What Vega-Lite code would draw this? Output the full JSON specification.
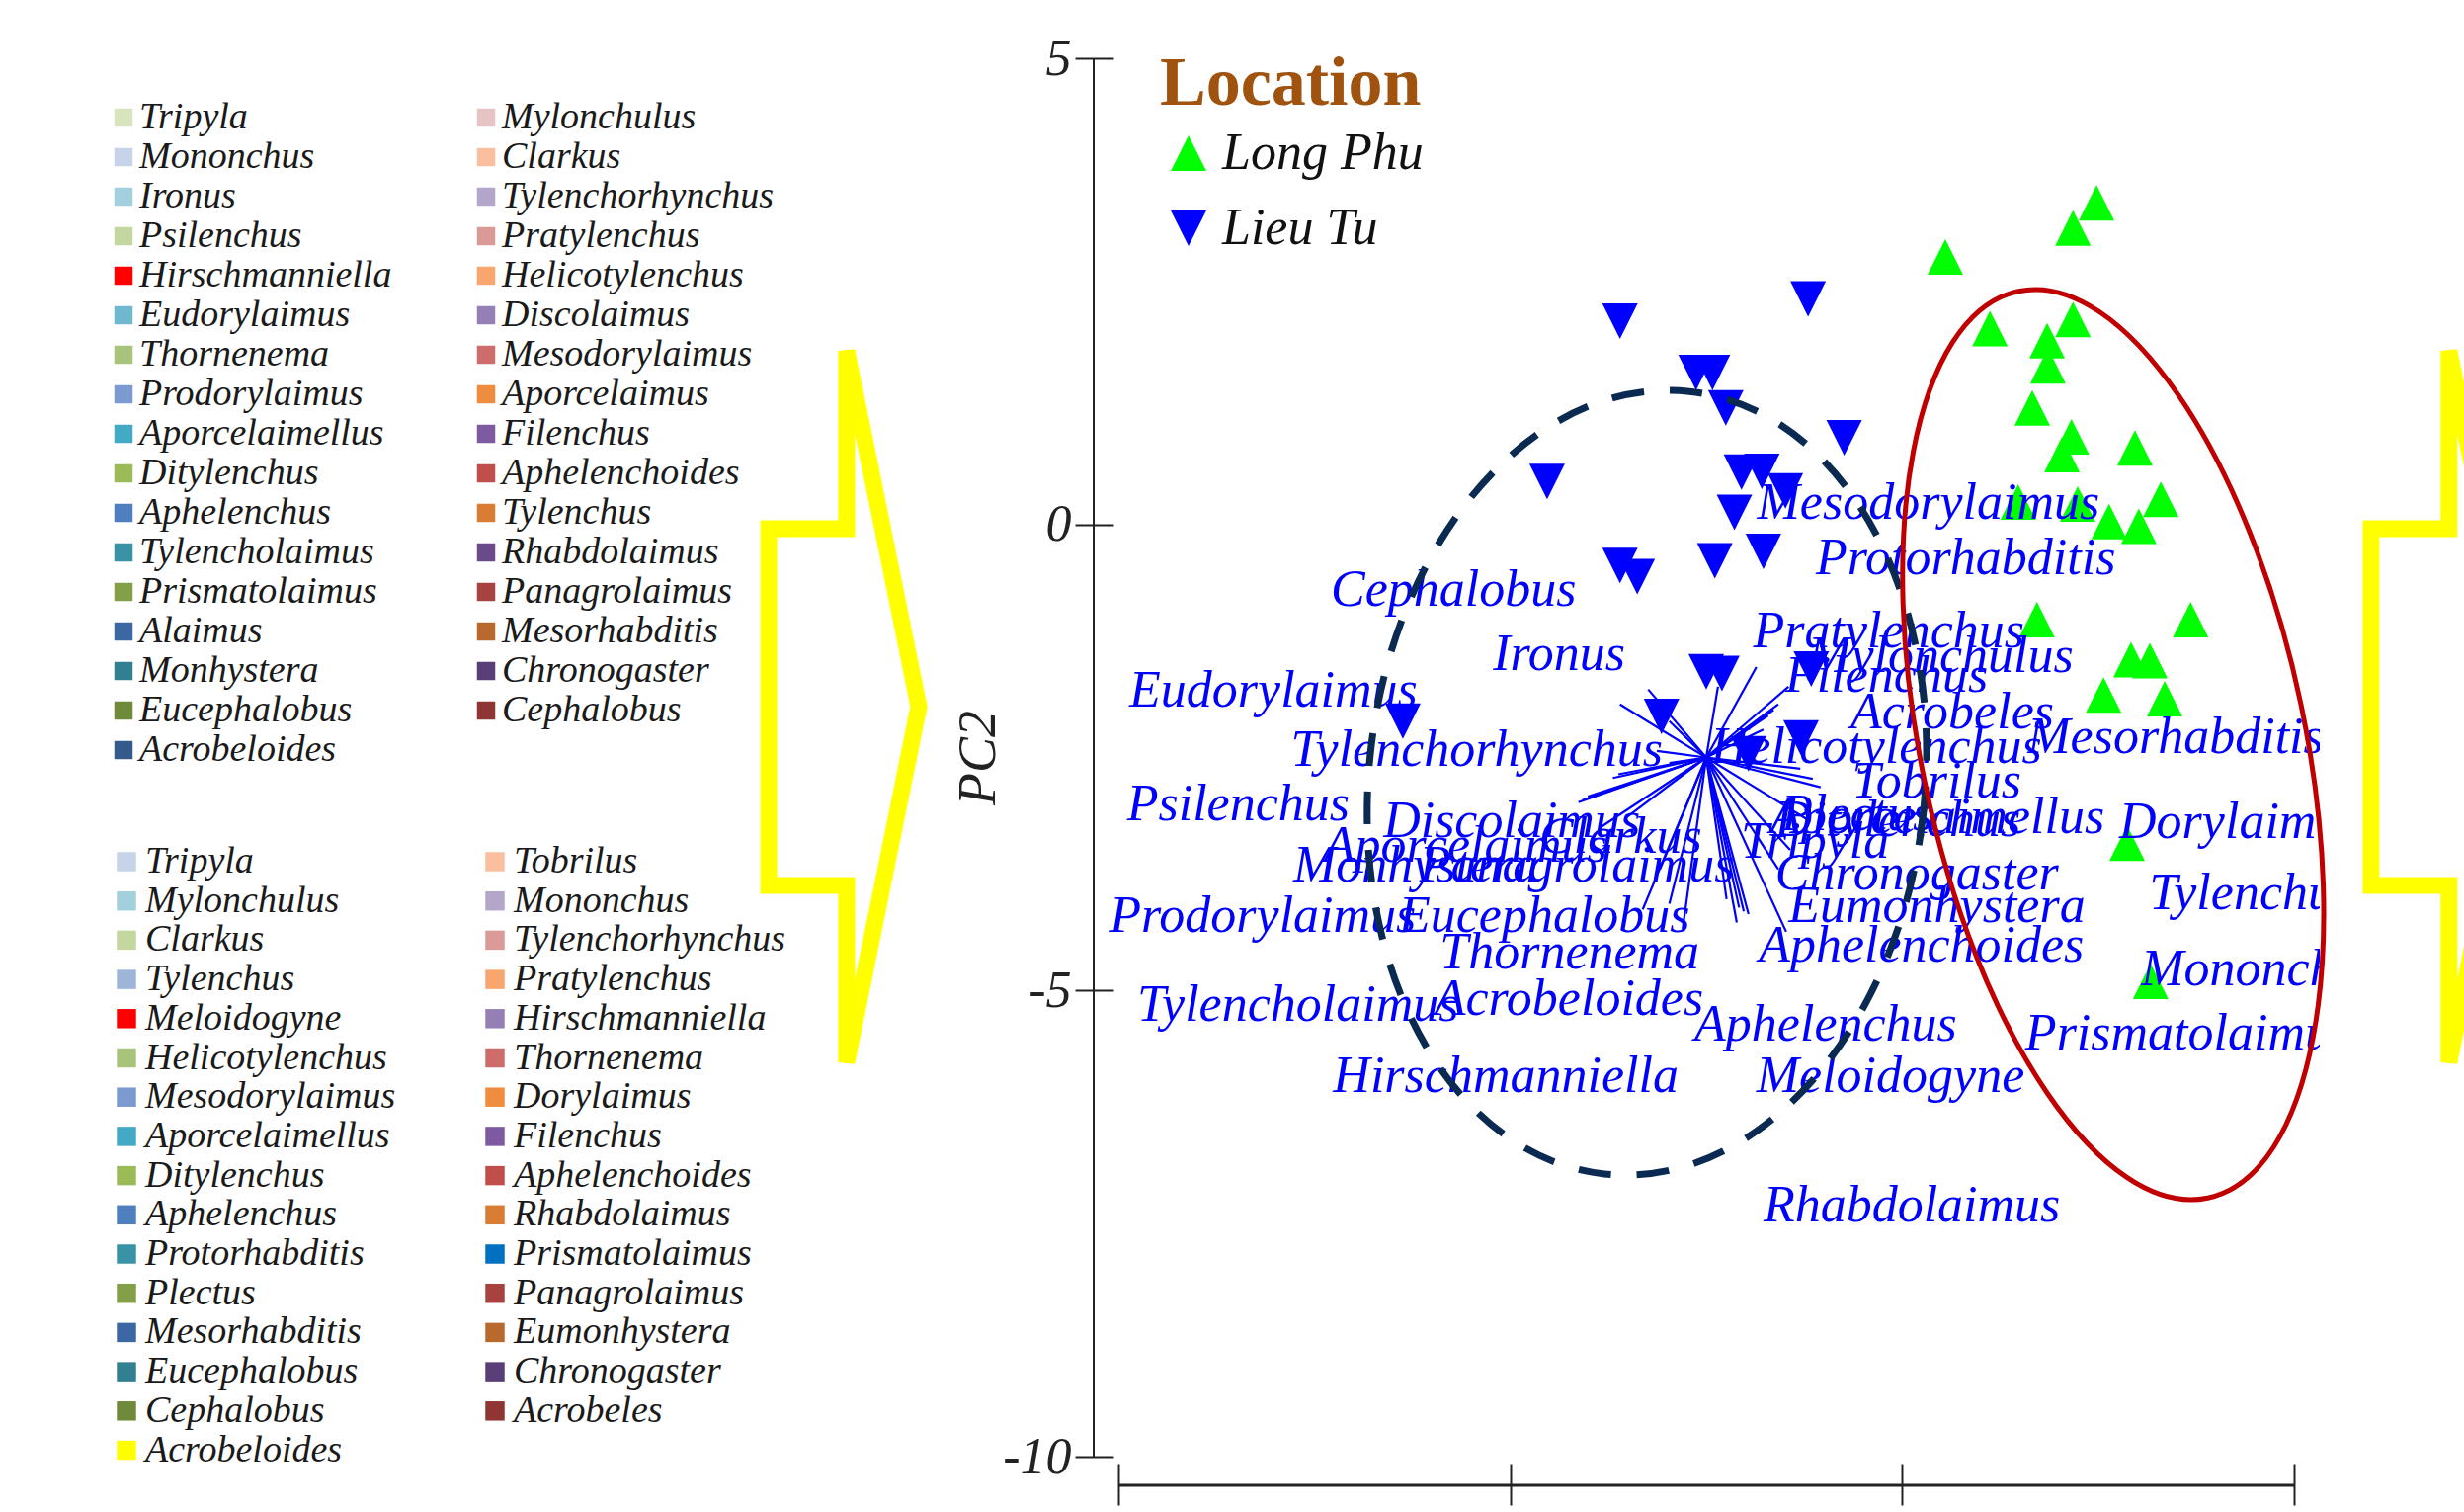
{
  "$schema": "https://vega.github.io/schema/vega-lite/v6.json",
  "width": 1241,
  "height": 1415,
  "autosize": {"type": "none"},
  "padding": {"left": 1107, "top": 59, "right": 146, "bottom": 56},
  "background": "white",
  "config": {"view": {"stroke": null}, "axis": {"grid": false}},
  "datasets": {
    "one": [{}],
    "sites": [
      {"Location": "Lieu Tu", "PC1": 1.40, "PC2": 2.18},
      {"Location": "Lieu Tu", "PC1": 3.80, "PC2": 2.42},
      {"Location": "Lieu Tu", "PC1": 2.37, "PC2": 1.63},
      {"Location": "Lieu Tu", "PC1": 2.58, "PC2": 1.63},
      {"Location": "Lieu Tu", "PC1": 2.75, "PC2": 1.25},
      {"Location": "Lieu Tu", "PC1": 4.26, "PC2": 0.93},
      {"Location": "Lieu Tu", "PC1": 0.47, "PC2": 0.46},
      {"Location": "Lieu Tu", "PC1": 2.95, "PC2": 0.56},
      {"Location": "Lieu Tu", "PC1": 3.21, "PC2": 0.57},
      {"Location": "Lieu Tu", "PC1": 3.51, "PC2": 0.36},
      {"Location": "Lieu Tu", "PC1": 2.86, "PC2": 0.13},
      {"Location": "Lieu Tu", "PC1": 1.40, "PC2": -0.44},
      {"Location": "Lieu Tu", "PC1": 1.62, "PC2": -0.56},
      {"Location": "Lieu Tu", "PC1": 2.61, "PC2": -0.39},
      {"Location": "Lieu Tu", "PC1": 3.23, "PC2": -0.29},
      {"Location": "Lieu Tu", "PC1": 2.50, "PC2": -1.58},
      {"Location": "Lieu Tu", "PC1": 2.70, "PC2": -1.60},
      {"Location": "Lieu Tu", "PC1": 3.84, "PC2": -1.55},
      {"Location": "Lieu Tu", "PC1": 1.93, "PC2": -2.06},
      {"Location": "Lieu Tu", "PC1": 3.71, "PC2": -2.29},
      {"Location": "Lieu Tu", "PC1": 3.04, "PC2": -2.46},
      {"Location": "Lieu Tu", "PC1": -1.37, "PC2": -2.11},
      {"Location": "Long Phu", "PC1": 7.48, "PC2": 3.45},
      {"Location": "Long Phu", "PC1": 7.18, "PC2": 3.18},
      {"Location": "Long Phu", "PC1": 5.55, "PC2": 2.87},
      {"Location": "Long Phu", "PC1": 6.12, "PC2": 2.10},
      {"Location": "Long Phu", "PC1": 7.18, "PC2": 2.20},
      {"Location": "Long Phu", "PC1": 6.85, "PC2": 1.97},
      {"Location": "Long Phu", "PC1": 6.86, "PC2": 1.70},
      {"Location": "Long Phu", "PC1": 6.66, "PC2": 1.25},
      {"Location": "Long Phu", "PC1": 7.16, "PC2": 0.94},
      {"Location": "Long Phu", "PC1": 7.04, "PC2": 0.75},
      {"Location": "Long Phu", "PC1": 7.97, "PC2": 0.82},
      {"Location": "Long Phu", "PC1": 6.48, "PC2": 0.24},
      {"Location": "Long Phu", "PC1": 7.24, "PC2": 0.22},
      {"Location": "Long Phu", "PC1": 8.30, "PC2": 0.27},
      {"Location": "Long Phu", "PC1": 7.64, "PC2": 0.03},
      {"Location": "Long Phu", "PC1": 8.02, "PC2": -0.02},
      {"Location": "Long Phu", "PC1": 6.72, "PC2": -1.02},
      {"Location": "Long Phu", "PC1": 8.68, "PC2": -1.02},
      {"Location": "Long Phu", "PC1": 7.92, "PC2": -1.45},
      {"Location": "Long Phu", "PC1": 8.16, "PC2": -1.46},
      {"Location": "Long Phu", "PC1": 7.57, "PC2": -1.83},
      {"Location": "Long Phu", "PC1": 8.35, "PC2": -1.87},
      {"Location": "Long Phu", "PC1": 7.87, "PC2": -3.42},
      {"Location": "Long Phu", "PC1": 8.17, "PC2": -4.90}
    ],
    "vectors": [
      {"PC1": 1.76, "PC2": -1.77}, {"PC1": 1.40, "PC2": -1.93}, {"PC1": 2.03, "PC2": -2.11},
      {"PC1": 2.65, "PC2": -1.74}, {"PC1": 3.14, "PC2": -1.53}, {"PC1": 3.55, "PC2": -1.74},
      {"PC1": 3.42, "PC2": -1.93}, {"PC1": 3.36, "PC2": -1.99}, {"PC1": 3.29, "PC2": -2.05},
      {"PC1": 3.23, "PC2": -2.20}, {"PC1": 3.96, "PC2": -2.82}, {"PC1": 3.86, "PC2": -2.73},
      {"PC1": 3.70, "PC2": -2.62}, {"PC1": 3.80, "PC2": -3.17}, {"PC1": 3.52, "PC2": -4.37},
      {"PC1": 3.57, "PC2": -3.49}, {"PC1": 3.42, "PC2": -3.70}, {"PC1": 3.04, "PC2": -4.18},
      {"PC1": 2.98, "PC2": -4.15}, {"PC1": 2.92, "PC2": -4.11}, {"PC1": 2.89, "PC2": -4.27},
      {"PC1": 2.76, "PC2": -4.02}, {"PC1": 2.20, "PC2": -4.34}, {"PC1": 2.03, "PC2": -4.07},
      {"PC1": 1.69, "PC2": -4.13}, {"PC1": 1.91, "PC2": -3.70}, {"PC1": 0.87, "PC2": -2.98},
      {"PC1": 0.92, "PC2": -2.96}, {"PC1": 0.99, "PC2": -2.92}, {"PC1": 1.31, "PC2": -2.72},
      {"PC1": 1.38, "PC2": -2.68}, {"PC1": 1.15, "PC2": -3.25}, {"PC1": 1.47, "PC2": -3.15},
      {"PC1": 1.87, "PC2": -2.43}, {"PC1": 2.03, "PC2": -2.56}
    ],
    "labels": [
      {"genus": "Mesodorylaimus", "PC1": 3.15, "PC2": 0.06},
      {"genus": "Protorhabditis", "PC1": 3.90, "PC2": -0.53},
      {"genus": "Cephalobus", "PC1": -2.29, "PC2": -0.87},
      {"genus": "Ironus", "PC1": -0.22, "PC2": -1.56},
      {"genus": "Pratylenchus", "PC1": 3.10, "PC2": -1.32},
      {"genus": "Mylonchulus", "PC1": 3.80, "PC2": -1.58},
      {"genus": "Filenchus", "PC1": 3.51, "PC2": -1.80},
      {"genus": "Eudorylaimus", "PC1": -4.86, "PC2": -1.95},
      {"genus": "Acrobeles", "PC1": 4.34, "PC2": -2.19},
      {"genus": "Mesorhabditis", "PC1": 6.60, "PC2": -2.45},
      {"genus": "Tylenchorhynchus", "PC1": -2.80, "PC2": -2.59},
      {"genus": "Helicotylenchus", "PC1": 2.56, "PC2": -2.56},
      {"genus": "Tobrilus", "PC1": 4.36, "PC2": -2.93},
      {"genus": "Psilenchus", "PC1": -4.89, "PC2": -3.17},
      {"genus": "Discolaimus", "PC1": -1.62, "PC2": -3.35},
      {"genus": "Aporcelaimellus", "PC1": 3.31, "PC2": -3.31},
      {"genus": "Ditylenchus", "PC1": 3.38, "PC2": -3.34},
      {"genus": "Plectus", "PC1": 3.46, "PC2": -3.28},
      {"genus": "Dorylaimus", "PC1": 7.77, "PC2": -3.36},
      {"genus": "Aporcelaimus", "PC1": -2.38, "PC2": -3.62},
      {"genus": "Clarkus", "PC1": 0.37, "PC2": -3.52},
      {"genus": "Monhystera", "PC1": -2.77, "PC2": -3.83},
      {"genus": "Panagrolaimus", "PC1": -1.16, "PC2": -3.83},
      {"genus": "Tripyla", "PC1": 2.94, "PC2": -3.58},
      {"genus": "Chronogaster", "PC1": 3.38, "PC2": -3.92},
      {"genus": "Eumonhystera", "PC1": 3.55, "PC2": -4.27},
      {"genus": "Prodorylaimus", "PC1": -5.11, "PC2": -4.37},
      {"genus": "Eucephalobus", "PC1": -1.42, "PC2": -4.37},
      {"genus": "Tylenchus", "PC1": 8.15, "PC2": -4.13},
      {"genus": "Thornenema", "PC1": -0.90, "PC2": -4.76},
      {"genus": "Aphelenchoides", "PC1": 3.17, "PC2": -4.69},
      {"genus": "Mononchus", "PC1": 8.05, "PC2": -4.94},
      {"genus": "Tylencholaimus", "PC1": -4.76, "PC2": -5.33},
      {"genus": "Acrobeloides", "PC1": -0.97, "PC2": -5.26},
      {"genus": "Aphelenchus", "PC1": 2.35, "PC2": -5.54},
      {"genus": "Prismatolaimus", "PC1": 6.57, "PC2": -5.63},
      {"genus": "Hirschmanniella", "PC1": -2.26, "PC2": -6.09},
      {"genus": "Meloidogyne", "PC1": 3.14, "PC2": -6.09},
      {"genus": "Rhabdolaimus", "PC1": 3.23, "PC2": -7.48}
    ],
    "legendA": [
      {"g1": "Tripyla"}, {"g1": "Mononchus"}, {"g1": "Ironus"}, {"g1": "Psilenchus"},
      {"g1": "Hirschmanniella"}, {"g1": "Eudorylaimus"}, {"g1": "Thornenema"}, {"g1": "Prodorylaimus"},
      {"g1": "Aporcelaimellus"}, {"g1": "Ditylenchus"}, {"g1": "Aphelenchus"}, {"g1": "Tylencholaimus"},
      {"g1": "Prismatolaimus"}, {"g1": "Alaimus"}, {"g1": "Monhystera"}, {"g1": "Eucephalobus"},
      {"g1": "Acrobeloides"}, {"g1": "Mylonchulus"}, {"g1": "Clarkus"}, {"g1": "Tylenchorhynchus"},
      {"g1": "Pratylenchus"}, {"g1": "Helicotylenchus"}, {"g1": "Discolaimus"}, {"g1": "Mesodorylaimus"},
      {"g1": "Aporcelaimus"}, {"g1": "Filenchus"}, {"g1": "Aphelenchoides"}, {"g1": "Tylenchus"},
      {"g1": "Rhabdolaimus"}, {"g1": "Panagrolaimus"}, {"g1": "Mesorhabditis"}, {"g1": "Chronogaster"},
      {"g1": "Cephalobus"}
    ],
    "legendB": [
      {"g2": "Tripyla"}, {"g2": "Mylonchulus"}, {"g2": "Clarkus"}, {"g2": "Tylenchus"},
      {"g2": "Meloidogyne"}, {"g2": "Helicotylenchus"}, {"g2": "Mesodorylaimus"}, {"g2": "Aporcelaimellus"},
      {"g2": "Ditylenchus"}, {"g2": "Aphelenchus"}, {"g2": "Protorhabditis"}, {"g2": "Plectus"},
      {"g2": "Mesorhabditis"}, {"g2": "Eucephalobus"}, {"g2": "Cephalobus"}, {"g2": "Acrobeloides"},
      {"g2": "Tobrilus"}, {"g2": "Mononchus"}, {"g2": "Tylenchorhynchus"}, {"g2": "Pratylenchus"},
      {"g2": "Hirschmanniella"}, {"g2": "Thornenema"}, {"g2": "Dorylaimus"}, {"g2": "Filenchus"},
      {"g2": "Aphelenchoides"}, {"g2": "Rhabdolaimus"}, {"g2": "Prismatolaimus"}, {"g2": "Panagrolaimus"},
      {"g2": "Eumonhystera"}, {"g2": "Chronogaster"}, {"g2": "Acrobeles"}
    ]
  },
  "layer": [
    {
      "data": {"name": "sites"},
      "mark": {"type": "point", "filled": true, "size": 1296, "opacity": 1, "strokeWidth": 0},
      "encoding": {
        "x": {
          "field": "PC1", "type": "quantitative",
          "scale": {"domain": [-5.315, 10.328], "nice": false, "zero": false},
          "axis": {"orient": "bottom", "values": [-5, 0, 5, 10], "labels": false, "title": null, "domain": false, "ticks": true, "tickSize": 42, "tickWidth": 2, "tickColor": "#222222", "offset": 7, "grid": false}
        },
        "y": {
          "field": "PC2", "type": "quantitative",
          "scale": {"domain": [-10, 5], "nice": false, "zero": false},
          "axis": {"values": [5, 0, -5, -10], "labelExpr": "'' + datum.value", "labelFont": "Liberation Serif", "labelFontStyle": "italic", "labelFontSize": 52, "labelColor": "#222222", "labelPadding": 4, "domain": false, "tickSize": 39, "tickWidth": 2, "tickColor": "#222222", "offset": -20, "grid": false, "title": "PC2", "titleFont": "Liberation Serif", "titleFontStyle": "italic", "titleFontWeight": "normal", "titleFontSize": 54, "titleColor": "#222222", "titleX": -137, "titleBaseline": "middle"}
        },
        "color": {
          "field": "Location", "type": "nominal",
          "scale": {"domain": ["Long Phu", "Lieu Tu"], "range": ["#00ff00", "#0000ff"]},
          "legend": {"title": "Location", "orient": "none", "legendX": 67, "legendY": -8, "padding": 0, "titleFont": "Liberation Serif", "titleFontSize": 70, "titleFontWeight": "bold", "titleColor": "#a0520f", "titleLimit": 800, "titlePadding": 8, "labelFont": "Liberation Serif", "labelFontStyle": "italic", "labelFontSize": 52, "labelColor": "#111111", "labelOffset": 8, "labelLimit": 600, "symbolSize": 1296, "symbolOffset": 3, "symbolStrokeWidth": 0, "symbolOpacity": 1, "rowPadding": 24}
        },
        "shape": {
          "field": "Location", "type": "nominal",
          "scale": {"domain": ["Long Phu", "Lieu Tu"], "range": ["M0,-1L1,1L-1,1Z", "M-1,-1L1,-1L0,1Z"]},
          "legend": {"title": "Location", "orient": "none", "legendX": 67, "legendY": -8, "padding": 0, "titleFont": "Liberation Serif", "titleFontSize": 70, "titleFontWeight": "bold", "titleColor": "#a0520f", "titleLimit": 800, "titlePadding": 8, "labelFont": "Liberation Serif", "labelFontStyle": "italic", "labelFontSize": 52, "labelColor": "#111111", "labelOffset": 8, "labelLimit": 600, "symbolSize": 1296, "symbolOffset": 3, "symbolStrokeWidth": 0, "symbolOpacity": 1, "rowPadding": 24}
        }
      }
    },
    {
      "data": {"name": "vectors"},
      "mark": {"type": "rule", "color": "#0000ff", "strokeWidth": 2.2},
      "encoding": {
        "x": {"field": "PC1", "type": "quantitative"},
        "y": {"field": "PC2", "type": "quantitative"},
        "x2": {"datum": 2.5},
        "y2": {"datum": -2.5}
      }
    },
    {
      "data": {"name": "labels"},
      "mark": {"type": "text", "align": "left", "baseline": "alphabetic", "font": "Liberation Serif", "fontStyle": "italic", "fontSize": 52, "color": "#0000ff", "clip": true},
      "encoding": {
        "x": {"field": "PC1", "type": "quantitative"},
        "y": {"field": "PC2", "type": "quantitative"},
        "text": {"field": "genus", "type": "nominal"}
      }
    },
    {
      "data": {"name": "one"},
      "mark": {"type": "point", "filled": false, "opacity": 1, "shape": "M0.7067,0C0.7067,0.5523,0.3903,1,0,1C-0.3903,1,-0.7067,0.5523,-0.7067,0C-0.7067,-0.5523,-0.3903,-1,0,-1C0.3903,-1,0.7067,-0.5523,0.7067,0Z", "size": 634253, "angle": 6.2, "color": "#0b2a52", "strokeWidth": 7, "strokeDash": [33, 26]},
      "encoding": {
        "x": {"datum": 1.743, "type": "quantitative"},
        "y": {"datum": -2.771, "type": "quantitative"}
      }
    },
    {
      "data": {"name": "one"},
      "mark": {"type": "point", "filled": false, "opacity": 1, "shape": "M0.4148,0C0.4148,0.5523,0.2291,1,0,1C-0.2291,1,-0.4148,0.5523,-0.4148,0C-0.4148,-0.5523,-0.2291,-1,0,-1C0.2291,-1,0.4148,-0.5523,0.4148,0Z", "size": 878719, "angle": -11.8, "color": "#c00000", "strokeWidth": 5},
      "encoding": {
        "x": {"datum": 7.692, "type": "quantitative"},
        "y": {"datum": -2.362, "type": "quantitative"}
      }
    },
    {
      "data": {"name": "one"},
      "mark": {"type": "point", "filled": false, "opacity": 1, "shape": "M0.008,-1L0.008,-0.5L-0.211,-0.5L-0.211,0.503L0.008,0.503L0.008,1L0.211,0Z", "size": 518400, "color": "#ffff00", "strokeWidth": 17},
      "encoding": {
        "x": {"datum": -8.504, "type": "quantitative"},
        "y": {"datum": -1.954, "type": "quantitative"}
      }
    },
    {
      "data": {"name": "one"},
      "mark": {"type": "point", "filled": false, "opacity": 1, "shape": "M0.008,-1L0.008,-0.5L-0.211,-0.5L-0.211,0.503L0.008,0.503L0.008,1L0.211,0Z", "size": 518400, "color": "#ffff00", "strokeWidth": 17},
      "encoding": {
        "x": {"datum": 11.94, "type": "quantitative"},
        "y": {"datum": -1.954, "type": "quantitative"}
      }
    },
    {
      "data": {"name": "one"},
      "mark": {"type": "rule", "color": "#222222", "strokeWidth": 2},
      "encoding": {
        "x": {"datum": -5.315, "type": "quantitative"},
        "y": {"datum": -10, "type": "quantitative"},
        "y2": {"datum": 5}
      }
    },
    {
      "data": {"name": "one"},
      "mark": {"type": "rule", "color": "#222222", "strokeWidth": 3},
      "encoding": {
        "x": {"datum": -5, "type": "quantitative"},
        "x2": {"datum": 10},
        "y": {"datum": -10.308, "type": "quantitative"}
      }
    },
    {
      "data": {"name": "legendA"},
      "mark": {"type": "square", "opacity": 0},
      "encoding": {
        "color": {
          "field": "g1", "type": "nominal",
          "scale": {
            "domain": ["Tripyla", "Mononchus", "Ironus", "Psilenchus", "Hirschmanniella", "Eudorylaimus", "Thornenema", "Prodorylaimus", "Aporcelaimellus", "Ditylenchus", "Aphelenchus", "Tylencholaimus", "Prismatolaimus", "Alaimus", "Monhystera", "Eucephalobus", "Acrobeloides", "Mylonchulus", "Clarkus", "Tylenchorhynchus", "Pratylenchus", "Helicotylenchus", "Discolaimus", "Mesodorylaimus", "Aporcelaimus", "Filenchus", "Aphelenchoides", "Tylenchus", "Rhabdolaimus", "Panagrolaimus", "Mesorhabditis", "Chronogaster", "Cephalobus"],
            "range": ["#d7e4bd", "#c6d3e8", "#a4cfdd", "#c4d7a0", "#ff0000", "#70b8d0", "#a8c47c", "#7b9bd0", "#44a9c4", "#9bbb59", "#4f7fbf", "#3a92a6", "#839f47", "#3d67a3", "#317f90", "#6e8a3a", "#355a8c", "#e6c3c4", "#f9bf9f", "#b3a6c8", "#d99a98", "#f9a66e", "#9580b5", "#cc6d6b", "#f08c3e", "#7e5ba0", "#c04f4c", "#d97d34", "#6a4a8a", "#a84240", "#b86a2e", "#5a3e78", "#8f3533"]
          },
          "legend": {"title": null, "orient": "none", "legendX": -1001, "legendY": 41, "padding": 0, "columns": 2, "columnPadding": 76, "rowPadding": 2, "symbolLimit": 60, "symbolType": "square", "symbolSize": 342, "symbolStrokeWidth": 0, "symbolOpacity": 1, "labelFont": "Liberation Serif", "labelFontStyle": "italic", "labelFontSize": 38, "labelColor": "#1a1a1a", "labelOffset": -3, "labelLimit": 600}
        }
      }
    },
    {
      "data": {"name": "legendB"},
      "mark": {"type": "square", "opacity": 0},
      "encoding": {
        "color": {
          "field": "g2", "type": "nominal",
          "scale": {
            "domain": ["Tripyla", "Mylonchulus", "Clarkus", "Tylenchus", "Meloidogyne", "Helicotylenchus", "Mesodorylaimus", "Aporcelaimellus", "Ditylenchus", "Aphelenchus", "Protorhabditis", "Plectus", "Mesorhabditis", "Eucephalobus", "Cephalobus", "Acrobeloides", "Tobrilus", "Mononchus", "Tylenchorhynchus", "Pratylenchus", "Hirschmanniella", "Thornenema", "Dorylaimus", "Filenchus", "Aphelenchoides", "Rhabdolaimus", "Prismatolaimus", "Panagrolaimus", "Eumonhystera", "Chronogaster", "Acrobeles"],
            "range": ["#c6d3e8", "#a4cfdd", "#c4d7a0", "#9fb4d9", "#ff0000", "#a8c47c", "#7b9bd0", "#44a9c4", "#9bbb59", "#4f7fbf", "#3a92a6", "#839f47", "#3d67a3", "#317f90", "#6e8a3a", "#ffff00", "#f9bf9f", "#b3a6c8", "#d99a98", "#f9a66e", "#9580b5", "#cc6d6b", "#f08c3e", "#7e5ba0", "#c04f4c", "#d97d34", "#0070c0", "#a84240", "#b86a2e", "#5a3e78", "#8f3533"]
          },
          "legend": {"title": null, "orient": "none", "legendX": -998, "legendY": 794, "padding": 0, "columns": 2, "columnPadding": 81, "rowPadding": 1.7, "symbolLimit": 60, "symbolType": "square", "symbolSize": 380, "symbolStrokeWidth": 0, "symbolOpacity": 1, "labelFont": "Liberation Serif", "labelFontStyle": "italic", "labelFontSize": 38, "labelColor": "#1a1a1a", "labelOffset": 0, "labelLimit": 600}
        }
      }
    }
  ],
  "resolve": {
    "scale": {"color": "independent", "shape": "independent"},
    "legend": {"color": "independent", "shape": "independent"}
  }
}
